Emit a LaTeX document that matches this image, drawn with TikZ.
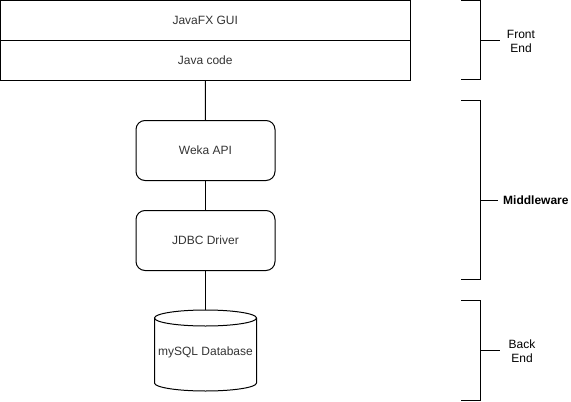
\documentclass[tikz,border=0pt]{standalone}
\usepackage{fontspec}
\setmainfont{Liberation Sans}
\definecolor{txtgray}{HTML}{333333}
\tikzset{
	layer/.style={draw,line width=1pt,minimum width=410.5pt,minimum height=40pt,inner sep=0pt,text=txtgray,font=\fontsize{12}{14}\selectfont},
	block/.style={draw,line width=1pt,rounded corners=9pt,minimum width=139pt,minimum height=60pt,inner sep=0pt,text=txtgray,font=\fontsize{12}{14}\selectfont},
	tier/.style={align=center,inner sep=0pt,font=\fontsize{12}{14}\selectfont},
	brace/.style={line width=1pt}
}
\begin{document}
\begin{tikzpicture}[x=1pt,y=-1pt]
			\useasboundingbox (0,0) rectangle (571,402);
			% the stack
			\node[layer] (gui) at (205.25,20.5) {JavaFX GUI};
			\node[layer] (code) at (205.25,60) {Java code};
			\node[block] (weka) at (205.5,150.5) {Weka API};
			\node[block] (jdbc) at (205.5,240.5) {JDBC Driver};
			\node[text=txtgray,font=\fontsize{12}{14}\selectfont] (db) at (205.5,352) {mySQL Database};
			\coordinate (dbtop) at (205.5,310);
			\draw[line width=1pt] (205.5,318) ellipse[x radius=51pt,y radius=8pt];
			\draw[line width=1pt] (154.5,318) -- (154.5,383) arc[start angle=180,end angle=360,x radius=51pt,y radius=8pt] -- (256.5,318);
			\draw[line width=1pt] (code.south) -- (weka.north);
			\draw[line width=1pt] (weka.south) -- (jdbc.north);
			\draw[line width=1pt] (jdbc.south) -- (dbtop);
			% tiers
			\draw[brace] (461,0.5) -- (480,0.5) -- (480,79.5) -- (461,79.5);
			\node[tier] (front) at (521,41) {Front\\End};
			\draw[brace] (480,40) -- (500,40);
			\draw[brace] (461,100.5) -- (480,100.5) -- (480,279.5) -- (461,279.5);
			\node[tier,font=\fontsize{12}{14}\selectfont\bfseries,anchor=west] (middle) at (503,200) {Middleware};
			\draw[brace] (480,200) -- ([xshift=-5pt]middle.west);
			\draw[brace] (461,300.5) -- (480,300.5) -- (480,400.5) -- (461,400.5);
			\node[tier] (back) at (522,351) {Back\\End};
			\draw[brace] (480,350) -- (500,350);
\end{tikzpicture}
\end{document}
